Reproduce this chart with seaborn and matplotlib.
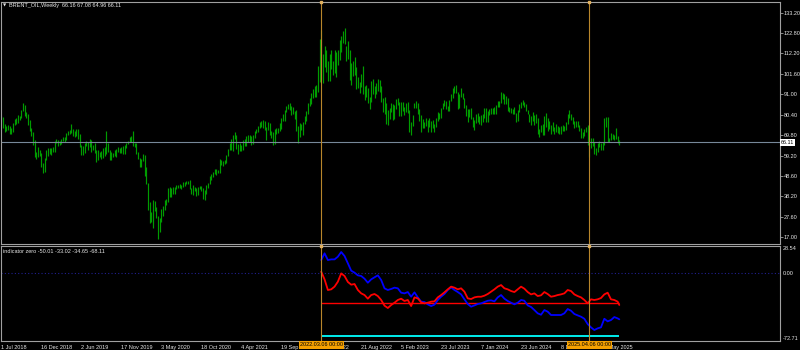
import matplotlib
matplotlib.use("Agg")
import matplotlib.pyplot as plt
import matplotlib.dates as mdates
import pandas as pd
import seaborn as sns

sns.set_style("dark")
plt.rcParams['font.family'] = ['Liberation Sans', 'DejaVu Sans']

# ---------------- data ----------------
start_week = "2018-07-01"

# weekly lows (Jul 2018 .. Aug 2025)
bar_low = [
    # 2018
    76.5, 73.5, 71.5, 72.0, 72.5, 70.3, 70.3, 71.5, 75.3, 75.8, 76.0, 77.6, 78.7, 82.3, 79.8, 78.9, 75.1, 72.2,
    69.6, 64.6, 58.4, 57.5, 58.5, 59.0, 53.3, 50.3, 50.5,
    # 2019
    57.0, 58.8, 60.3, 59.3, 61.0, 60.9, 65.5, 64.1, 64.5, 65.3, 66.8, 66.4, 67.5, 69.8, 70.4, 71.0, 69.5, 68.6,
    69.5, 67.7, 63.9, 59.5, 59.5, 60.8, 64.4, 61.9, 63.9, 61.3, 61.9, 60.6, 55.9, 57.0, 58.5, 57.7, 58.0, 59.2,
    60.2, 60.9, 57.1, 57.2, 58.6, 58.8, 58.7, 61.3, 60.8, 60.4, 60.0, 59.9, 63.4, 65.0, 66.1, 66.5,
    # 2020
    64.3, 63.6, 60.3, 57.7, 53.5, 53.4, 56.3, 48.5, 44.6, 31.0, 24.5, 24.8, 21.7, 30.5, 27.2, 16.0, 19.5, 25.1,
    28.0, 30.9, 33.9, 35.0, 37.6, 37.6, 39.5, 39.3, 42.0, 42.3, 42.4, 42.0, 43.2, 43.7, 44.3, 44.6, 41.8, 39.4,
    38.9, 40.8, 38.5, 39.0, 42.2, 40.9, 36.6, 36.3, 39.3, 42.6, 44.8, 46.4, 48.2, 49.6, 49.3, 50.0,
    # 2021
    50.4, 54.3, 54.0, 54.8, 55.2, 59.2, 62.0, 62.1, 61.7, 67.6, 62.8, 60.3, 61.6, 61.6, 62.3, 64.4, 64.4, 66.5,
    66.5, 64.6, 65.0, 68.5, 70.9, 71.3, 73.4, 73.9, 73.5, 72.6, 67.4, 72.4, 70.1, 68.3, 64.6, 65.0, 70.5, 71.0,
    72.2, 72.8, 77.2, 77.0, 81.6, 83.6, 82.6, 80.0, 80.8, 78.4, 72.1, 65.7, 68.6, 72.4, 70.0, 75.7,
    # 2022
    77.2, 80.9, 84.8, 85.8, 88.9, 89.7, 89.5, 92.1, 97.1, 98.5, 97.0, 105.0, 102.5, 98.0, 97.6, 104.0, 101.0,
    102.0, 100.0, 106.0, 108.5, 113.0, 117.5, 117.0, 108.0, 109.0, 98.5, 96.0, 100.5, 101.0, 93.5, 94.0, 91.5,
    94.5, 91.0, 88.0, 89.5, 86.5, 83.6, 87.0, 91.0, 89.0, 91.0, 92.5, 92.0, 87.0, 82.0, 80.6, 75.5, 75.0, 78.0,
    82.0,
    # 2023
    77.5, 78.0, 83.5, 85.5, 79.5, 79.5, 82.5, 80.4, 82.0, 81.5, 71.4, 70.1, 74.3, 84.0, 83.7, 80.5, 77.3, 71.3,
    73.7, 73.5, 74.6, 71.5, 74.0, 71.6, 73.5, 71.7, 74.2, 77.3, 78.1, 78.5, 83.6, 84.8, 83.2, 82.3, 82.5, 87.5,
    89.0, 91.5, 91.5, 83.5, 84.0, 89.5, 88.5, 84.0, 79.5, 76.6, 79.0, 78.0, 74.0, 72.3, 76.0, 76.5, 75.5,
    # 2024
    75.0, 76.8, 78.5, 76.5, 76.7, 80.0, 80.5, 80.5, 81.0, 80.8, 84.5, 84.5, 86.5, 88.5, 85.7, 86.0, 82.5, 82.0,
    81.5, 80.6, 80.5, 76.8, 77.2, 82.0, 84.0, 85.5, 84.5, 82.5, 80.6, 76.5, 75.0, 77.0, 75.0, 76.0, 70.6, 68.7,
    71.5, 70.0, 70.0, 74.0, 72.0, 73.0, 70.5, 72.0, 70.5, 71.5, 71.0, 70.5, 70.5, 72.0, 72.0, 72.5,
    # 2025
    75.5, 78.5, 77.5, 75.5, 73.5, 73.8, 74.0, 72.0, 68.3, 68.5, 69.5, 71.5, 64.5, 58.4, 63.0, 64.0, 60.0, 59.5,
    61.0, 63.5, 62.0, 62.0, 64.5, 74.0, 66.5, 66.5, 67.5, 68.0, 67.5, 68.0, 65.5, 64.96,
]

# weekly highs
bar_high = [
    # 2018
    79.5, 79.0, 75.5, 74.8, 75.3, 74.5, 73.4, 76.0, 78.2, 78.7, 80.1, 79.8, 83.0, 86.7, 85.2, 81.9, 80.6, 77.6,
    73.4, 71.5, 67.4, 61.2, 63.7, 62.2, 60.8, 55.4, 58.0,
    # 2019
    62.0, 63.0, 63.3, 63.3, 63.9, 66.6, 67.8, 67.5, 66.8, 67.6, 68.7, 68.6, 70.8, 71.9, 72.3, 75.6, 73.0, 72.0,
    73.0, 73.2, 70.2, 64.6, 64.3, 65.6, 67.0, 66.5, 67.6, 67.3, 64.5, 65.5, 62.3, 61.9, 61.0, 61.5, 63.1, 63.8,
    71.9, 65.9, 62.0, 61.2, 60.8, 62.3, 62.5, 63.5, 63.4, 63.5, 64.2, 64.6, 65.5, 66.9, 68.7, 69.5,
    # 2020
    71.8, 65.6, 65.8, 61.3, 58.0, 57.6, 60.0, 59.4, 53.2, 45.0, 35.2, 30.3, 36.3, 36.0, 32.5, 28.0, 27.2, 31.5,
    33.0, 36.5, 37.0, 42.6, 43.0, 42.6, 43.0, 43.0, 43.9, 43.9, 44.8, 44.0, 45.8, 45.5, 45.9, 46.1, 46.4, 42.3,
    43.8, 42.9, 42.7, 43.2, 43.7, 43.4, 42.6, 41.5, 44.0, 45.2, 48.7, 49.9, 51.0, 52.5, 52.5, 52.0,
    # 2021
    57.4, 57.0, 56.5, 56.7, 59.8, 62.8, 65.5, 67.7, 69.8, 71.4, 69.9, 65.1, 65.8, 64.8, 67.3, 67.6, 69.3, 69.8,
    70.0, 69.6, 69.8, 71.9, 73.0, 74.6, 76.7, 77.0, 77.8, 77.1, 74.1, 76.4, 75.9, 72.0, 71.6, 72.8, 73.4, 73.3,
    76.0, 78.5, 80.8, 83.0, 85.1, 86.1, 86.7, 85.0, 84.6, 82.4, 82.8, 74.6, 76.2, 75.8, 76.6, 79.9,
    # 2022
    82.2, 86.7, 89.2, 91.7, 93.7, 95.0, 96.0, 105.8, 119.8, 124.0, 112.0, 116.0, 114.0, 108.0, 112.0, 114.0,
    108.0, 114.0, 113.0, 114.0, 119.0, 121.0, 123.6, 125.2, 116.0, 118.5, 114.0, 107.0, 108.0, 110.5, 105.0,
    100.0, 97.5, 101.5, 105.5, 95.5, 96.0, 94.0, 89.5, 98.0, 99.0, 95.5, 97.0, 99.0, 98.5, 95.0, 89.0, 89.4,
    86.5, 83.0, 84.0, 86.5,
    # 2023
    86.0, 85.5, 88.5, 89.0, 87.0, 86.8, 86.8, 84.5, 86.4, 86.8, 83.0, 76.5, 80.0, 86.4, 87.5, 86.4, 83.2, 80.0,
    78.0, 76.5, 78.5, 77.5, 78.5, 77.0, 77.5, 75.5, 78.5, 81.8, 81.1, 84.0, 86.2, 88.1, 87.5, 85.0, 88.0, 91.2,
    94.0, 95.0, 96.0, 92.0, 91.0, 94.0, 91.5, 89.0, 85.5, 83.5, 83.5, 84.0, 79.0, 77.5, 80.5, 81.5, 79.5,
    # 2024
    80.0, 80.8, 83.8, 84.0, 82.5, 83.5, 83.7, 84.0, 84.2, 85.5, 87.7, 87.5, 91.9, 91.8, 91.0, 89.9, 89.0, 84.5,
    84.0, 83.5, 84.5, 81.5, 83.0, 86.0, 87.0, 88.0, 87.2, 86.0, 83.0, 81.0, 79.5, 82.0, 80.0, 81.0, 78.5, 73.0,
    75.0, 75.5, 79.5, 81.2, 78.5, 77.0, 75.0, 76.5, 74.0, 75.5, 74.5, 74.0, 74.5, 75.0, 74.5, 76.5,
    # 2025
    80.8, 82.6, 81.0, 79.0, 77.0, 77.0, 77.2, 75.0, 73.5, 71.5, 73.0, 74.2, 75.3, 66.5, 68.3, 68.3, 66.5, 63.0,
    65.5, 66.8, 65.5, 66.5, 78.5, 79.0, 79.0, 68.5, 71.0, 70.5, 70.0, 73.5, 69.5, 67.08,
]

# indicator "zero" (sampled every 2 weeks from 2022.03.06, plus last bar)
ind_blue = [
    13.5, 20.7, 13.5, 14.2, 14.2, 17.1, 22.1, 17.8, 10.0, 2.1, 0.0, -2.9, -3.6, -6.5, -10.8, -7.2, -5.0, -2.9,
    -7.9, -16.8, -18.6, -17.5, -16.1, -16.8, -21.5, -22.2, -20.8, -25.8, -21.1, -26.5, -31.1, -31.5, -34.0,
    -35.8, -34.3, -29.3, -25.8, -22.9, -18.6, -15.8, -18.6, -20.8, -23.3, -28.6, -33.6, -36.5, -35.1, -33.6,
    -32.9, -31.5, -30.1, -29.7, -30.8, -26.5, -24.0, -27.9, -30.4, -32.2, -34.0, -32.2, -29.3, -30.1, -35.1,
    -36.8, -40.1, -43.6, -45.1, -40.1, -41.8, -45.4, -45.4, -45.4, -45.4, -43.6, -39.0, -40.8, -44.3, -45.8,
    -47.2, -49.4, -55.1, -58.6, -61.5, -59.7, -58.6, -49.4, -52.2, -50.8, -47.6, -49.0, -50.01,
]
ind_red = [
    1.0, -7.2, -18.6, -17.9, -15.0, -9.7, -0.8, -3.6, -10.0, -12.9, -12.2, -18.6, -22.2, -24.0, -27.9, -24.0,
    -22.9, -25.1, -29.3, -35.4, -37.9, -34.7, -32.2, -29.3, -27.9, -30.4, -29.3, -35.8, -26.5, -27.6, -31.8,
    -32.9, -32.2, -31.1, -30.8, -26.5, -24.0, -21.1, -17.9, -15.0, -16.1, -17.9, -16.8, -20.4, -27.6, -28.3,
    -26.5, -25.8, -25.8, -24.7, -22.9, -20.4, -17.9, -15.0, -13.3, -16.8, -17.9, -19.7, -20.8, -17.9, -15.0,
    -17.2, -20.8, -23.3, -22.2, -25.1, -24.3, -20.8, -22.9, -25.8, -25.1, -24.0, -23.3, -22.2, -18.6, -19.7,
    -23.3, -25.1, -26.5, -29.3, -32.9, -28.6, -29.3, -28.6, -27.2, -23.3, -21.5, -28.6, -29.3, -31.1, -34.65,
]
red_level = -33.02
cyan_level = -68.11
bid_price = 66.11

price_levels = [133.20, 122.80, 112.20, 101.60, 91.00, 80.40, 69.80, 59.20, 48.60, 38.20, 27.60, 17.00]
ind_levels = [28.54, 0.00, -72.71]
date_labels = ["1 Jul 2018", "16 Dec 2018", "2 Jun 2019", "17 Nov 2019", "3 May 2020", "18 Oct 2020",
               "4 Apr 2021", "19 Sep 2021", "6 Mar 2022", "21 Aug 2022", "5 Feb 2023", "23 Jul 2023",
               "7 Jan 2024", "23 Jun 2024", "8 Dec 2024", "25 May 2025"]
marker_labels = ["2022.03.06 00:00", "2025.04.06 00:00"]
marker_dates = ["2022-03-06", "2025-04-06"]
header = "BRENT_OIL,Weekly  66.16 67.08 64.96 66.11"
sub_header = "indicator zero -50.01 -33.02 -34.65 -68.11"

# ---------------- derived ----------------
dates = pd.date_range(start_week, periods=len(bar_high), freq="W-SUN")
i0 = dates.get_loc(pd.Timestamp(marker_dates[0]))
ind_idx = list(range(i0, len(dates) - 1, 2)) + [len(dates) - 1]
ind = pd.DataFrame({"date": dates[ind_idx], "blue": ind_blue, "red": ind_red})
label_dates = [pd.Timestamp(start_week) + pd.Timedelta(weeks=24 * k) for k in range(len(date_labels))]

W, H = 800, 350
def rect(x0, y0, x1, y1):
    return [x0 / W, 1 - y1 / H, (x1 - x0) / W, (y1 - y0) / H]

fig = plt.figure(figsize=(8, 3.5), dpi=100, facecolor="black")
ax = fig.add_axes(rect(0.5, 2, 779.5, 244))
ax2 = fig.add_axes(rect(0.5, 246, 779.5, 340.5), sharex=ax)

FS = 4.0
TXT = "#e6e6e6"
SPINE = "#a0a0a0"
VLINE = "#b8862b"

for a in (ax, ax2):
    a.set_facecolor("black")
    for s in a.spines.values():
        s.set_color(SPINE)
        s.set_linewidth(0.8)
    a.grid(False)

d0 = mdates.date2num(pd.Timestamp(start_week))
ax.set_xlim(d0 - 0.6 * 7, d0 + 467.2 * 7)
ax.set_ylim(13.5, 138.7)
ax2.set_ylim(-72.71, 28.54)

# price bars
ax.vlines(dates, bar_low, bar_high, color="#009c00", lw=0.85)
ax.axhline(bid_price, color="#778899", lw=0.8)

# indicator
ax2.axhline(0, color="#202090", lw=0.8, ls=(0, (1, 2)))
ax2.hlines(cyan_level, ind["date"].iloc[0], ind["date"].iloc[-1], color="#00ffff", lw=1.3)
ax2.hlines(red_level, ind["date"].iloc[0], ind["date"].iloc[-1], color="#ff0000", lw=1.0)
sns.lineplot(data=ind, x="date", y="blue", ax=ax2, color="#0000ff", lw=1.3)
sns.lineplot(data=ind, x="date", y="red", ax=ax2, color="#ff0000", lw=1.3)
ax2.set_xlabel("")
ax2.set_ylabel("")

# vertical marker lines
for md in marker_dates:
    t = pd.Timestamp(md)
    for a in (ax, ax2):
        a.axvline(t, color=VLINE, lw=0.8, zorder=5)
        a.plot([t], [1.0], marker="s", ms=1.8, color="#e0b060", transform=a.get_xaxis_transform(),
               clip_on=False, zorder=6)

# right price axis
ax.yaxis.tick_right()
ax.set_yticks(price_levels)
ax.set_yticklabels([f"{v:.2f}" for v in price_levels], fontsize=FS, color=TXT)
ax.tick_params(axis="y", length=2, width=0.6, color=SPINE, pad=1.0)
ax.tick_params(axis="x", bottom=False, labelbottom=False)

ax2.yaxis.tick_right()
ax2.set_yticks(ind_levels)
ax2.set_yticklabels([f"{v:.2f}" for v in ind_levels], fontsize=FS, color=TXT)
ax2.tick_params(axis="y", length=0, pad=2.0)
lbls = ax2.get_yticklabels()
lbls[0].set_va("top")
lbls[-1].set_va("bottom")

# bottom date axis
ax2.set_xticks(label_dates)
ax2.set_xticklabels(date_labels, fontsize=FS, color=TXT, ha="left")
ax2.tick_params(axis="x", length=2, width=0.6, color=SPINE, pad=1.2)

# bid price box
ax.text(1.002, bid_price, f"{bid_price:.2f}", transform=ax.get_yaxis_transform(), fontsize=FS,
        color="black", va="center", ha="left", clip_on=False, zorder=10,
        bbox=dict(boxstyle="square,pad=0.15", fc="white", ec="none"))

# highlighted time labels
for md, lab in zip(marker_dates, marker_labels):
    xpix = ax.transData.transform((mdates.date2num(pd.Timestamp(md)), 0))[0]
    fig.text(xpix / W, 1 - 345 / H, lab, fontsize=FS, color="black", ha="center", va="center",
             zorder=10, bbox=dict(boxstyle="square,pad=0.2", fc="#f5a000", ec="none"))

# headers
fig.text(3 / W, 1 - 5.5 / H, "\u25BC", fontsize=3.0, color=TXT, ha="left", va="center",
         family=['DejaVu Sans'])
fig.text(9 / W, 1 - 6 / H, header, fontsize=FS, color=TXT, ha="left", va="center")
fig.text(3 / W, 1 - 251.5 / H, sub_header, fontsize=FS, color=TXT, ha="left", va="center")

fig.savefig("out.png", dpi=100, facecolor="black")
